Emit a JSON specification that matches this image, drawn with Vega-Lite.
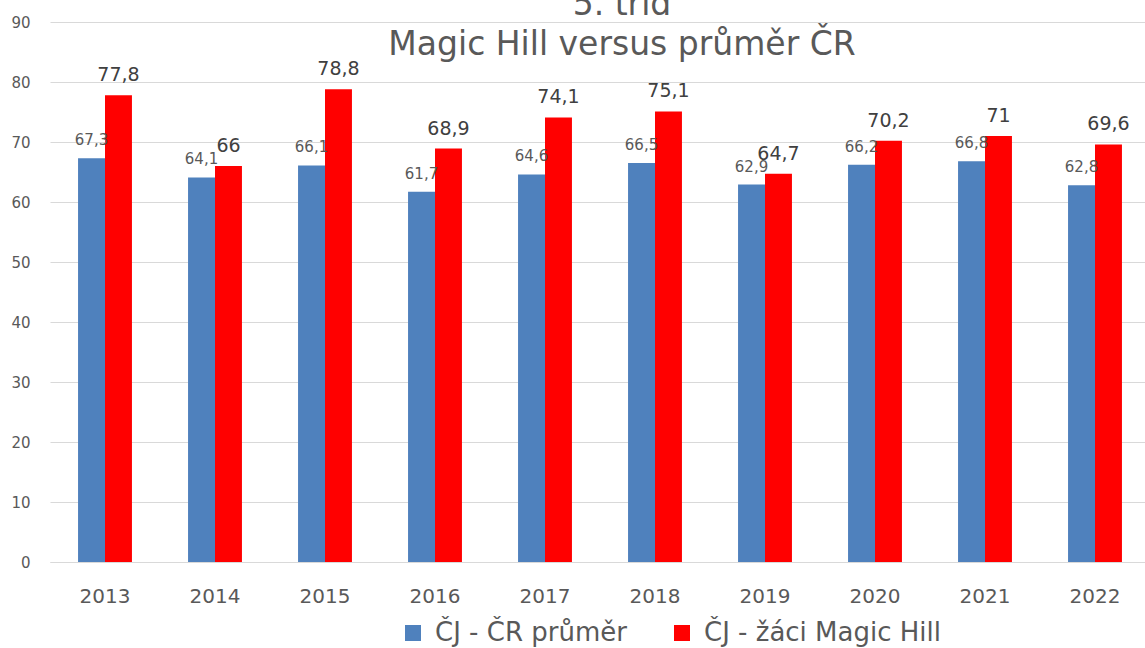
{
  "$schema": "https://vega.github.io/schema/vega-lite/v6.json",
  "autosize": {"type": "none"},
  "width": 1100,
  "height": 540,
  "padding": {"left": 50, "top": 22, "right": 0, "bottom": 86},
  "background": "#ffffff",
  "title": {
    "text": ["5. tříd", "Magic Hill versus průměr ČR"],
    "anchor": "middle",
    "font": "DejaVu Sans",
    "fontSize": 33,
    "fontWeight": "normal",
    "color": "#595959",
    "lineHeight": 40,
    "offset": -47,
    "dx": 22
  },
  "config": {
    "locale": {"number": {"decimal": ",", "thousands": " ", "grouping": [3], "currency": ["", " Kč"]}},
    "view": {"stroke": null},
    "font": "DejaVu Sans"
  },
  "data": {
    "values": [
      {"rok": "2013", "serie": "ČJ - ČR průměr", "hodnota": 67.3},
      {"rok": "2013", "serie": "ČJ - žáci Magic Hill", "hodnota": 77.8},
      {"rok": "2014", "serie": "ČJ - ČR průměr", "hodnota": 64.1},
      {"rok": "2014", "serie": "ČJ - žáci Magic Hill", "hodnota": 66},
      {"rok": "2015", "serie": "ČJ - ČR průměr", "hodnota": 66.1},
      {"rok": "2015", "serie": "ČJ - žáci Magic Hill", "hodnota": 78.8},
      {"rok": "2016", "serie": "ČJ - ČR průměr", "hodnota": 61.7},
      {"rok": "2016", "serie": "ČJ - žáci Magic Hill", "hodnota": 68.9},
      {"rok": "2017", "serie": "ČJ - ČR průměr", "hodnota": 64.6},
      {"rok": "2017", "serie": "ČJ - žáci Magic Hill", "hodnota": 74.1},
      {"rok": "2018", "serie": "ČJ - ČR průměr", "hodnota": 66.5},
      {"rok": "2018", "serie": "ČJ - žáci Magic Hill", "hodnota": 75.1},
      {"rok": "2019", "serie": "ČJ - ČR průměr", "hodnota": 62.9},
      {"rok": "2019", "serie": "ČJ - žáci Magic Hill", "hodnota": 64.7},
      {"rok": "2020", "serie": "ČJ - ČR průměr", "hodnota": 66.2},
      {"rok": "2020", "serie": "ČJ - žáci Magic Hill", "hodnota": 70.2},
      {"rok": "2021", "serie": "ČJ - ČR průměr", "hodnota": 66.8},
      {"rok": "2021", "serie": "ČJ - žáci Magic Hill", "hodnota": 71},
      {"rok": "2022", "serie": "ČJ - ČR průměr", "hodnota": 62.8},
      {"rok": "2022", "serie": "ČJ - žáci Magic Hill", "hodnota": 69.6}
    ]
  },
  "encoding": {
    "x": {
      "field": "rok", "type": "nominal", "title": null,
      "scale": {"paddingInner": 0.51, "paddingOuter": 0.255},
      "axis": {"labelAngle": 0, "labelFontSize": 20, "labelColor": "#595959", "labelPadding": 24, "ticks": false, "domainColor": "#D9D9D9", "labelFont": "DejaVu Sans"}
    },
    "xOffset": {"field": "serie", "type": "nominal", "scale": {"domain": ["ČJ - ČR průměr", "ČJ - žáci Magic Hill"], "paddingInner": 0, "paddingOuter": 0}},
    "y": {
      "field": "hodnota", "type": "quantitative", "title": null,
      "scale": {"domain": [0, 90]},
      "axis": {"values": [0, 10, 20, 30, 40, 50, 60, 70, 80, 90], "labelFontSize": 15, "labelColor": "#595959", "labelPadding": 20, "ticks": false, "domain": false, "gridColor": "#D9D9D9", "labelFont": "DejaVu Sans"}
    }
  },
  "layer": [
    {
      "mark": {"type": "bar"},
      "encoding": {
        "color": {
          "field": "serie", "type": "nominal", "title": null,
          "scale": {"domain": ["ČJ - ČR průměr", "ČJ - žáci Magic Hill"], "range": ["#4F81BD", "#FF0000"]},
          "legend": {"orient": "none", "legendX": 350, "legendY": 598, "direction": "horizontal", "symbolType": "square", "symbolSize": 256, "symbolStrokeWidth": 0, "labelFontSize": 26, "labelColor": "#595959", "labelFont": "DejaVu Sans", "columnPadding": 42, "labelOffset": 9, "labelLimit": 400}
        }
      }
    },
    {
      "transform": [{"filter": "datum.serie === 'ČJ - ČR průměr'"}],
      "mark": {"type": "text", "baseline": "bottom", "dy": -10, "fontSize": 15, "color": "#595959"},
      "encoding": {"text": {"field": "hodnota", "type": "quantitative", "format": ".1~f"}}
    },
    {
      "transform": [{"filter": "datum.serie === 'ČJ - žáci Magic Hill'"}],
      "mark": {"type": "text", "baseline": "bottom", "dy": -10, "fontSize": 19, "color": "#404040"},
      "encoding": {"text": {"field": "hodnota", "type": "quantitative", "format": ".1~f"}}
    }
  ]
}
